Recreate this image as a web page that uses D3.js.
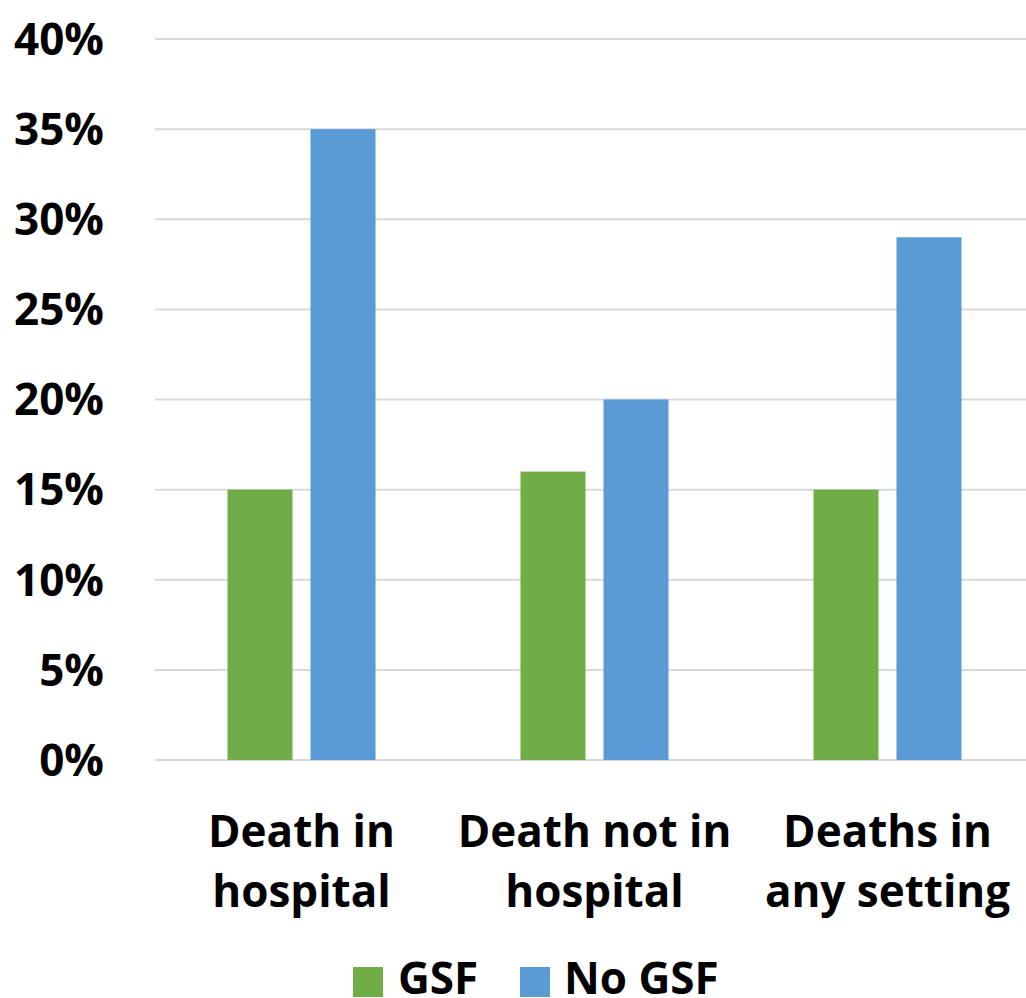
<!DOCTYPE html>
<html><head><meta charset="utf-8">
<script src="https://cdn.jsdelivr.net/npm/d3@7"></script>
<style>html,body{margin:0;padding:0;background:#fff;}svg{display:block;font-family:"Open Sans",sans-serif;font-weight:bold;}</style>
</head><body>
<svg id="c" width="1026" height="998"></svg>
<script>
const categories = [["Death in","hospital"],["Death not in","hospital"],["Deaths in","any setting"]];
const seriesNames = ["GSF","No GSF"];
const gsf = [15,16,15];
const noGsf = [35,20,29];
const yTicks = [0,5,10,15,20,25,30,35,40];
const colors = ["#70ad47","#5b9bd5"];

const svg = d3.select("#c");
const x = d3.scaleBand().domain(d3.range(categories.length)).range([155,1034]).padding(0);
const y = d3.scaleLinear().domain([0,40]).range([760,39]);

// gridlines
svg.append("g").selectAll("line").data(yTicks).join("line")
  .attr("x1",155).attr("x2",1026)
  .attr("y1",d=>y(d)).attr("y2",d=>y(d))
  .attr("stroke","#d9d9d9").attr("stroke-width",2);

// y labels
svg.append("g").selectAll("text").data(yTicks).join("text")
  .attr("x",104).attr("y",d=>y(d)).attr("dy","0.36em")
  .attr("text-anchor","end").attr("font-size",44).attr("fill","#000")
  .text(d=>d+"%");

const bw = 65, gap = 18;
const series = [gsf,noGsf];
series.forEach((vals,si)=>{
  svg.append("g").selectAll("rect").data(vals).join("rect")
    .attr("x",(d,i)=>x(i)+x.bandwidth()/2 - (bw+gap/2) + si*(bw+gap))
    .attr("width",bw)
    .attr("y",d=>y(d)).attr("height",d=>y(0)-y(d))
    .attr("fill",colors[si]);
});

// x labels
const xl = svg.append("g");
categories.forEach((lines,i)=>{
  const t = xl.append("text").attr("text-anchor","middle").attr("font-size",44).attr("fill","#000");
  lines.forEach((ln,j)=>{
    t.append("tspan").attr("x",x(i)+x.bandwidth()/2).attr("y",847+j*60).text(ln);
  });
});

// legend
const leg = [{x:353,tx:398},{x:520,tx:564}];
seriesNames.forEach((n,i)=>{
  svg.append("rect").attr("x",leg[i].x).attr("y",967).attr("width",30).attr("height",30).attr("fill",colors[i]);
  svg.append("text").attr("x",leg[i].tx).attr("y",994).attr("font-size",44).attr("fill","#000").text(n);
});
</script>
</body></html>
